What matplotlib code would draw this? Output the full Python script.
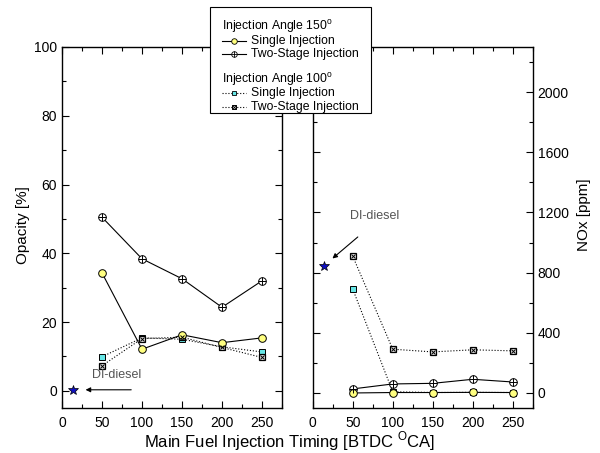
import matplotlib
matplotlib.use('Agg')
import matplotlib.pyplot as plt
from matplotlib.lines import Line2D
from matplotlib.patches import Rectangle
from matplotlib.ticker import MultipleLocator

plt.rcParams['font.family'] = ['Liberation Sans', 'DejaVu Sans']
plt.rcParams['mathtext.fontset'] = 'custom'
plt.rcParams['mathtext.rm'] = 'Liberation Sans'

timing = [50, 100, 150, 200, 250]

# opacity [%]
opa_150_single = [34.3, 12.1, 16.3, 14.0, 15.4]
opa_150_two = [50.5, 38.4, 32.6, 24.3, 32.0]
opa_100_single = [9.9, 15.4, 15.0, 12.8, 11.3]
opa_100_two = [7.3, 15.2, 15.6, 12.6, 9.7]

# NOx [ppm]
nox_150_single = [0, 3, 3, 4, 3]
nox_150_two = [27, 60, 64, 91, 73]
nox_100_single = [691, 8, 3, 4, 3]
nox_100_two = [909, 291, 273, 287, 280]

# DI-diesel reference point
di_timing = 14
di_opacity = 0.3
di_nox = 847

YELLOW = '#ffff80'
CYAN = '#66e6e6'

fig = plt.figure(figsize=(6, 4.53), dpi=100)
ax1 = fig.add_axes([0.1033, 0.0993, 0.3667, 0.797])
ax2 = fig.add_axes([0.5212, 0.0993, 0.3667, 0.797])


def draw_series(ax, x, y, kind, ls):
    if kind == 'circle':
        ax.plot(x, y, ls=ls, color='black', lw=0.8, marker='o', ms=5.5,
                mfc=YELLOW, mec='black', mew=0.7, zorder=3)
    elif kind == 'circle_plus':
        ax.plot(x, y, ls=ls, color='black', lw=0.8, marker='o', ms=5.5,
                mfc='white', mec='black', mew=0.7, zorder=3)
        ax.plot(x, y, ls='none', marker='+', ms=5.5, mec='black', mew=0.7, zorder=4)
    elif kind == 'square':
        ax.plot(x, y, ls=ls, color='black', lw=0.8, marker='s', ms=5,
                mfc=CYAN, mec='black', mew=0.7, zorder=3)
    elif kind == 'square_x':
        ax.plot(x, y, ls=ls, color='black', lw=0.8, marker='s', ms=5,
                mfc='#e8e8e8', mec='black', mew=0.9, zorder=3)
        ax.plot(x, y, ls='none', marker='x', ms=3.5, mec='black', mew=0.7, zorder=4)


draw_series(ax1, timing, opa_100_single, 'square', ':')
draw_series(ax1, timing, opa_100_two, 'square_x', ':')
draw_series(ax1, timing, opa_150_two, 'circle_plus', '-')
draw_series(ax1, timing, opa_150_single, 'circle', '-')

draw_series(ax2, timing, nox_100_single, 'square', ':')
draw_series(ax2, timing, nox_100_two, 'square_x', ':')
draw_series(ax2, timing, nox_150_two, 'circle_plus', '-')
draw_series(ax2, timing, nox_150_single, 'circle', '-')

ax1.plot([di_timing], [di_opacity], marker='*', ms=7, mfc='#1010c0', mec='black',
         mew=0.5, ls='none', zorder=5)
ax2.plot([di_timing], [di_nox], marker='*', ms=7, mfc='#1010c0', mec='black',
         mew=0.5, ls='none', zorder=5)

ax1.annotate('', xy=(26, 0.3), xytext=(90, 0.3),
             arrowprops=dict(arrowstyle='-|>', color='black', lw=0.8,
                             mutation_scale=7))
ax1.text(68, 4.6, 'DI-diesel', ha='center', va='center', fontsize=9, color='#555555')

ax2.annotate('', xy=(22, 882), xytext=(59, 1049),
             arrowprops=dict(arrowstyle='-|>', color='black', lw=0.8,
                             mutation_scale=7))
ax2.text(77, 1176, 'DI-diesel', ha='center', va='center', fontsize=9, color='#555555')

for ax in (ax1, ax2):
    ax.set_xlim(0, 275)
    ax.xaxis.set_major_locator(MultipleLocator(50))
    ax.xaxis.set_minor_locator(MultipleLocator(25))
    ax.tick_params(which='both', direction='in', top=True, bottom=True,
                   left=True, right=True, labelsize=10, width=0.8)
    ax.tick_params(which='major', length=5)
    ax.tick_params(which='minor', length=3)
    ax.tick_params(axis='x', pad=6)
    for sp in ax.spines.values():
        sp.set_linewidth(1.0)

ax1.set_ylim(-5, 100)
ax1.yaxis.set_major_locator(MultipleLocator(20))
ax1.yaxis.set_minor_locator(MultipleLocator(10))
ax1.set_ylabel('Opacity [%]', fontsize=11)
ax1.yaxis.set_label_coords(-0.145, 0.507)

ax2.set_ylim(-100, 2300)
ax2.yaxis.set_major_locator(MultipleLocator(400))
ax2.yaxis.set_minor_locator(MultipleLocator(200))
ax2.tick_params(labelleft=False, labelright=True)
ax2.yaxis.set_label_position('right')
ax2.set_ylabel('NOx [ppm]', fontsize=11, rotation=90)
ax2.yaxis.set_label_coords(1.20, 0.535)

fig.text(0.483, 0.027, 'Main Fuel Injection Timing [BTDC $^{\\mathrm{O}}$CA]',
         ha='center', va='center', fontsize=12)


# legend box drawn in pixel coordinates of the figure
def fp(x, y):
    return x / 600.0, 1 - y / 453.0


x0, y0 = fp(210, 7)
x1, y1 = fp(371, 113)
fig.add_artist(Rectangle((x0, y1), x1 - x0, y0 - y1, transform=fig.transFigure,
                         facecolor='white', edgecolor='black', lw=0.8, zorder=10))

legend_rows = [
    (27, 'Injection Angle 150$^{\\mathrm{o}}$', None, None),
    (41, 'Single Injection', 'circle', '-'),
    (54, 'Two-Stage Injection', 'circle_plus', '-'),
    (80, 'Injection Angle 100$^{\\mathrm{o}}$', None, None),
    (93, 'Single Injection', 'square', ':'),
    (107, 'Two-Stage Injection', 'square_x', ':'),
]

for ypix, label, kind, ls in legend_rows:
    if kind is None:
        tx, ty = fp(222, ypix)
        fig.text(tx, ty, label, ha='left', va='center', fontsize=8.8, zorder=11)
        continue
    ax_, ay = fp(222, ypix)
    bx, _ = fp(246, ypix)
    mx, _ = fp(234, ypix)
    fig.add_artist(Line2D([ax_, bx], [ay, ay], transform=fig.transFigure,
                          color='black', lw=0.8, ls=ls, zorder=11))
    if kind == 'circle':
        mk = dict(marker='o', ms=4, mfc=YELLOW, mec='black', mew=0.6)
    elif kind == 'circle_plus':
        mk = dict(marker='o', ms=4, mfc='white', mec='black', mew=0.6)
    elif kind == 'square':
        mk = dict(marker='s', ms=3.5, mfc=CYAN, mec='black', mew=0.6)
    else:
        mk = dict(marker='s', ms=3.5, mfc='#e8e8e8', mec='black', mew=0.7)
    fig.add_artist(Line2D([mx], [ay], transform=fig.transFigure, ls='none',
                          zorder=12, **mk))
    if kind == 'circle_plus':
        fig.add_artist(Line2D([mx], [ay], transform=fig.transFigure, ls='none',
                              marker='+', ms=4, mec='black', mew=0.6, zorder=13))
    if kind == 'square_x':
        fig.add_artist(Line2D([mx], [ay], transform=fig.transFigure, ls='none',
                              marker='x', ms=2.5, mec='black', mew=0.6, zorder=13))
    tx, ty = fp(251, ypix)
    fig.text(tx, ty, label, ha='left', va='center', fontsize=8.8, zorder=11)

fig.savefig('out.png', dpi=100)
